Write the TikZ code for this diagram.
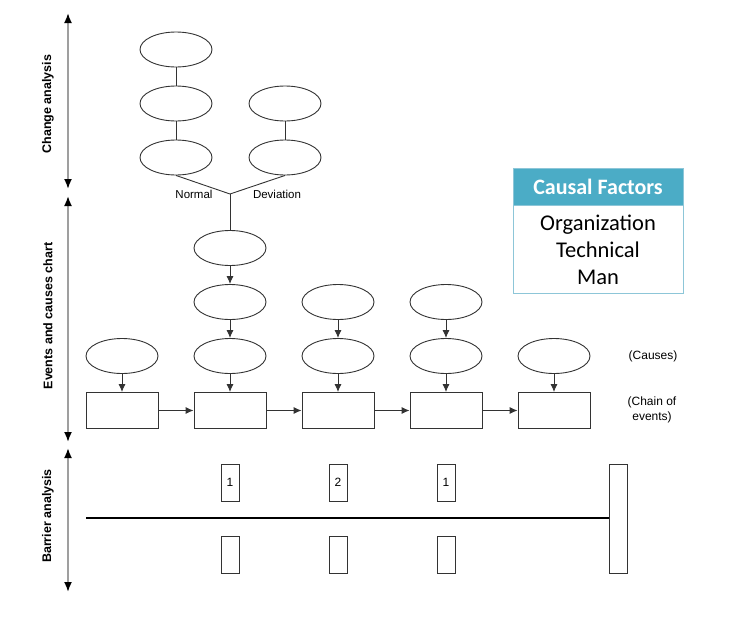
\documentclass[tikz,border=0pt]{standalone}
\usepackage{fontspec}
\setmainfont{Liberation Sans}
\newfontfamily\calfont{Carlito}
\usetikzlibrary{shapes.geometric,arrows.meta}
\definecolor{teal1}{HTML}{4BACC6}
\definecolor{teal2}{HTML}{8DC6D8}
\definecolor{lineg}{HTML}{333333}
\tikzset{
  ell/.style={ellipse,draw=lineg,line width=0.9pt,minimum width=72pt,minimum height=35pt,inner sep=0pt},
  evbox/.style={rectangle,draw=lineg,line width=0.9pt,minimum width=72pt,minimum height=36pt,inner sep=0pt},
  bar/.style={rectangle,draw=lineg,line width=0.9pt,minimum width=18pt,minimum height=37pt,inner sep=0pt,font=\fontsize{12}{14}\selectfont},
  conn/.style={draw=lineg,line width=0.9pt},
  arr/.style={conn,-{Latex[length=8pt,width=7pt]}},
  axis/.style={draw=gray!75,line width=1.8pt,{Latex[black,length=10pt,width=8pt]}-{Latex[black,length=10pt,width=8pt]}},
  axlabel/.style={rotate=90,font=\bfseries\fontsize{12.5}{14}\selectfont},
  lbl/.style={font=\fontsize{11.5}{13}\selectfont,inner sep=0pt},
  side/.style={font=\fontsize{12}{15}\selectfont,align=center,inner sep=0pt}
}
\begin{document}
\begin{tikzpicture}[x=1pt,y=-1pt]
\useasboundingbox (0,0) rectangle (733,616);
% axis
\coordinate (a1) at (68,13);
\coordinate (a2) at (68,189);
\coordinate (a3) at (68,196);
\coordinate (a4) at (68,442);
\coordinate (a5) at (68,448);
\coordinate (a6) at (68,592);
\draw[axis] (a1) -- (a2);
\draw[axis] (a3) -- (a4);
\draw[axis] (a5) -- (a6);
\node[axlabel] (l1) at (48,104) {Change analysis};
\node[axlabel] (l2) at (48,316) {Events and causes chart};
\node[axlabel] (l3) at (48,516) {Barrier analysis};
% change analysis
\node[ell] (e1) at (176,49.5) {};
\node[ell] (e2) at (176,103.5) {};
\node[ell] (e3) at (176,157.5) {};
\node[ell] (f2) at (285,103.5) {};
\node[ell] (f3) at (285,157.5) {};
\coordinate (j) at (230,194);
\draw[conn] (e1) -- (e2);
\draw[conn] (e2) -- (e3);
\draw[conn] (f2) -- (f3);
\draw[conn] (e3.south) -- (j);
\draw[conn] (f3.south) -- (j);
\node[lbl] (nn) at (194,194) {Normal};
\node[lbl] (dv) at (277,194) {Deviation};
% events and causes
\node[ell] (g1) at (230,248) {};
\node[ell] (g2) at (230,302) {};
\node[ell] (h1) at (338,302) {};
\node[ell] (i1) at (446,302) {};
\draw[conn] (j) -- (g1);
\draw[arr] (g1) -- (g2);
\foreach \n/\x in {1/122,2/230,3/338,4/446,5/554}{
  \node[ell] (c\n) at (\x,356) {};
  \node[evbox] (b\n) at (\x,410.5) {};
  \draw[arr] (c\n) -- (b\n);
}
\draw[arr] (g2) -- (c2);
\draw[arr] (h1) -- (c3);
\draw[arr] (i1) -- (c4);
\draw[arr] (b1) -- (b2);
\draw[arr] (b2) -- (b3);
\draw[arr] (b3) -- (b4);
\draw[arr] (b4) -- (b5);
\node[side] (cs) at (653,356) {(Causes)};
\node[side] (ch) at (652,410) {(Chain of\\events)};
% causal factors
\node[rectangle,fill=teal1,draw=teal2,line width=0.8pt,minimum width=170pt,minimum height=37pt,inner sep=0pt,text=white,font=\calfont\bfseries\fontsize{22}{24}\selectfont] (cfh) at (598,186.5) {Causal Factors};
\node[rectangle,draw=teal2,line width=0.8pt,minimum width=170pt,minimum height=88pt,inner sep=0pt,anchor=north,align=center,font=\calfont\fontsize{22.5}{27}\selectfont] (cfb) at (cfh.south) {Organization\\Technical\\Man};
% barrier analysis
\node[bar] (t1) at (230,482.5) {1};
\node[bar] (t2) at (338,482.5) {2};
\node[bar] (t3) at (446,482.5) {1};
\node[bar] (u1) at (230,554.5) {};
\node[bar] (u2) at (338,554.5) {};
\node[bar] (u3) at (446,554.5) {};
\node[rectangle,draw=lineg,line width=0.9pt,minimum width=18pt,minimum height=109pt,inner sep=0pt] (wall) at (618,518.5) {};
\coordinate (bs) at (86,518);
\draw[line width=2.6pt,black] (bs) -- (bs -| wall.west);
\end{tikzpicture}
\end{document}
